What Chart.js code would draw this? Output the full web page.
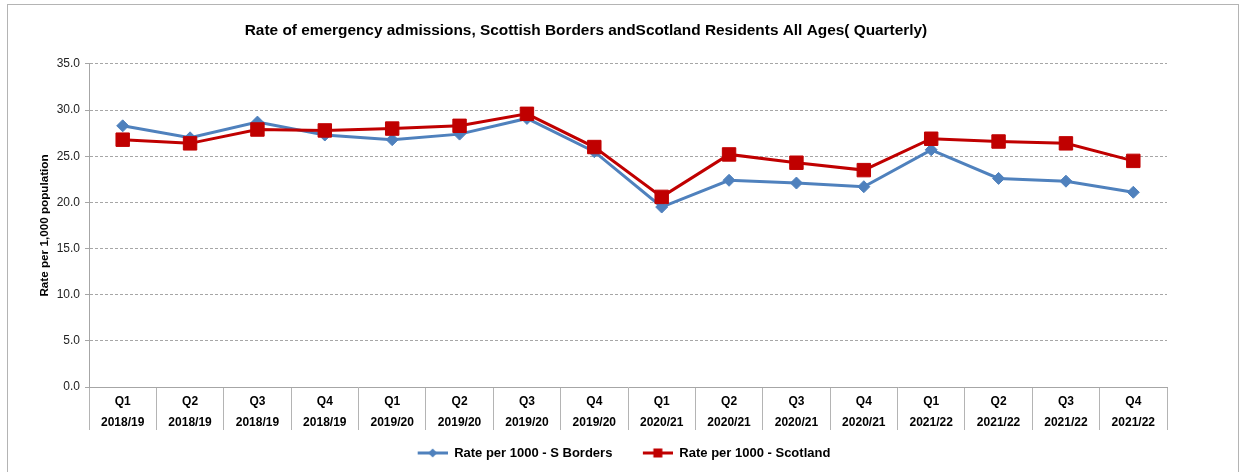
<!DOCTYPE html>
<html>
<head>
<meta charset="utf-8">
<script src="https://cdn.jsdelivr.net/npm/chart.js@4.4.1/dist/chart.umd.min.js"></script>
<style>
body { margin: 0; background: #fff; }
#wrap { position: relative; width: 1243px; height: 472px; overflow: hidden; }
#frame { position: absolute; left: 7px; top: 4px; width: 1230px; height: 480px; border: 1px solid #b4b4b4; }
canvas { position: absolute; left: 0; top: 0; }
</style>
</head>
<body>
<div id="wrap">
	<div id="frame"></div>
	<canvas id="admissionsChart" width="1243" height="472"></canvas>
</div>
<script>
// Quarterly emergency admission rates per 1,000 population
var quarters = ['Q1', 'Q2', 'Q3', 'Q4', 'Q1', 'Q2', 'Q3', 'Q4', 'Q1', 'Q2', 'Q3', 'Q4', 'Q1', 'Q2', 'Q3', 'Q4'];
var years = ['2018/19', '2018/19', '2018/19', '2018/19', '2019/20', '2019/20', '2019/20', '2019/20',
	'2020/21', '2020/21', '2020/21', '2020/21', '2021/22', '2021/22', '2021/22', '2021/22'];
var bordersRate = [28.3, 27.0, 28.7, 27.3, 26.8, 27.4, 29.1, 25.5, 19.5, 22.4, 22.1, 21.7, 25.7, 22.6, 22.3, 21.1];
var scotlandRate = [26.8, 26.4, 27.9, 27.8, 28.0, 28.3, 29.6, 26.0, 20.6, 25.2, 24.3, 23.5, 26.9, 26.6, 26.4, 24.5];
var yTicks = [0, 5, 10, 15, 20, 25, 30, 35];

var FONT = "'Liberation Sans', Arial, sans-serif";
var blue = '#4f81bd';
var red = '#c00000';

// legend sample: short line with the marker in the middle (left part left empty as spacing)
function legendIcon(color, shape){
	var c = document.createElement('canvas');
	c.width = 49;
	c.height = 12;
	var ctx = c.getContext('2d');
	ctx.strokeStyle = color;
	ctx.lineWidth = 3;
	ctx.beginPath();
	ctx.moveTo(19, 6);
	ctx.lineTo(49, 6);
	ctx.stroke();
	ctx.fillStyle = color;
	if(shape == 'diamond'){
		ctx.beginPath();
		ctx.moveTo(34, 1.5);
		ctx.lineTo(38.5, 6);
		ctx.lineTo(34, 10.5);
		ctx.lineTo(29.5, 6);
		ctx.closePath();
		ctx.fill();
	} else {
		ctx.fillRect(29.5, 1.5, 9, 9);
	}
	return c;
}
var icons = [legendIcon(red, 'square'), legendIcon(blue, 'diamond')];

var labels = [];
for(var i = 0; i < quarters.length; i++){
	labels.push([quarters[i], years[i]]);
}

var titleShift = {
	id: 'titleShift',
	afterLayout: function(chart){
		chart.titleBlock.right -= 57;
	}
};

new Chart(document.getElementById('admissionsChart').getContext('2d'), {
	type: 'line',
	data: {
		labels: labels,
		datasets: [{
			label: 'Rate per 1000 - Scotland',
			data: scotlandRate,
			borderColor: red,
			backgroundColor: red,
			borderWidth: 3,
			pointStyle: 'rect',
			pointRadius: 9.5,
			pointBorderWidth: 1,
			pointBorderColor: red,
			pointBackgroundColor: red,
			tension: 0
		}, {
			label: 'Rate per 1000 - S Borders',
			data: bordersRate,
			borderColor: blue,
			backgroundColor: blue,
			borderWidth: 3,
			pointStyle: 'rectRot',
			pointRadius: 6,
			pointBorderWidth: 1,
			pointBorderColor: blue,
			pointBackgroundColor: blue,
			tension: 0
		}]
	},
	options: {
		responsive: false,
		animation: false,
		devicePixelRatio: 1,
		layout: { padding: { left: 0, right: 14, top: 0, bottom: 2.5 } },
		plugins: {
			title: {
				display: true,
				text: 'Rate of emergency admissions, Scottish Borders andScotland Residents All Ages( Quarterly)',
				color: '#000',
				font: { family: FONT, size: 15.4, weight: 'bold' },
				padding: { top: 21.75, bottom: 23.75 }
			},
			legend: {
				position: 'bottom',
				reverse: true,
				labels: {
					color: '#000',
					font: { family: FONT, size: 13, weight: 'bold' },
					usePointStyle: true,
					pointStyleWidth: 49,
					padding: 11.5,
					generateLabels: function(chart){
						var items = Chart.defaults.plugins.legend.labels.generateLabels(chart);
						items.forEach(function(item){ item.pointStyle = icons[item.datasetIndex]; });
						return items;
					}
				}
			},
			tooltip: { enabled: false }
		},
		scales: {
			x: {
				offset: true,
				grid: { offset: true, drawOnChartArea: false, tickLength: 43, color: '#b4b4b4' },
				border: { color: '#a6a6a6' },
				ticks: {
					color: '#000',
					font: { family: FONT, size: 12, weight: 'bold', lineHeight: 21 / 12 },
					padding: -38.8,
					maxRotation: 0,
					autoSkip: false
				},
				afterFit: function(scale){ scale.height = 48; }
			},
			y: {
				min: 0,
				max: 35,
				afterBuildTicks: function(scale){
					scale.ticks = yTicks.map(function(v){ return { value: v }; });
				},
				ticks: {
					color: '#222',
					font: { family: FONT, size: 12 },
					padding: 5,
					callback: function(v){ return Number(v).toFixed(1); }
				},
				grid: { color: '#a6a6a6', tickLength: 4, tickBorderDash: [] },
				border: { color: '#a6a6a6', dash: [3, 2] },
				title: {
					display: true,
					text: 'Rate per 1,000 population',
					color: '#000',
					font: { family: FONT, size: 11.7, weight: 'bold' },
					padding: { top: 38, bottom: 0 }
				},
				afterFit: function(scale){ scale.width = 89; }
			},
			// empty right-hand axis, only keeps the space to the right of the plot
			spacer: {
				position: 'right',
				display: true,
				grid: { display: false },
				border: { display: false },
				ticks: { display: false },
				afterFit: function(scale){ scale.width = 62; }
			}
		}
	},
	plugins: [titleShift]
});
</script>
</body>
</html>
